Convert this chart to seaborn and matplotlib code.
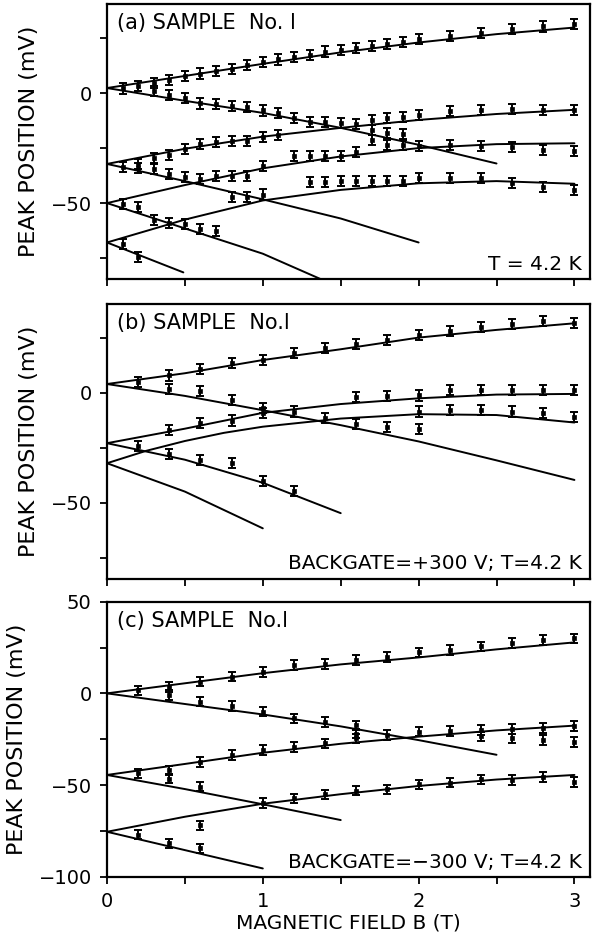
import numpy as np
import pandas as pd
import matplotlib
matplotlib.use("Agg")
import matplotlib.pyplot as plt
import seaborn as sns

sns.set_theme(style="ticks")
plt.rcParams['font.family'] = ['DejaVu Sans']
plt.rcParams.update({"text.color": "black", "axes.labelcolor": "black",
                     "xtick.color": "black", "ytick.color": "black"})

# ---------------- panel (a): SAMPLE No. 1, T = 4.2 K ----------------
# fitted level curves: (branch, field values, energies)
curves_a = {
    "a1": ([0, 0.5, 1.0, 1.5, 2.0, 2.5, 3.0], [2.3, 7.8, 13.3, 18.5, 23.0, 26.8, 29.8]),
    "a2": ([0, 0.5, 1.0, 1.5, 2.0, 2.5], [2.3, -3.5, -9.0, -15.8, -23.5, -32.0]),
    "a3": ([0, 0.5, 1.0, 1.5, 2.0, 2.5, 3.0], [-32.2, -25.3, -19.8, -15.8, -12.2, -9.5, -7.6]),
    "a4": ([0, 0.5, 1.0, 1.5, 2.0], [-32.2, -40.0, -48.3, -57.0, -67.9]),
    "a5": ([0, 0.5, 1.0, 1.5, 2.0, 2.5, 3.0], [-50.0, -41.8, -34.2, -28.8, -25.0, -23.2, -22.8]),
    "a6": ([0, 0.5, 1.0, 1.37], [-50.0, -61.5, -73.0, -84.5]),
    "a7": ([0, 0.5, 1.0, 1.5, 2.0, 2.5, 3.0], [-67.9, -57.5, -48.8, -44.0, -41.0, -40.0, -41.2]),
    "a8": ([0, 0.49], [-67.9, -81.5]),
}
field_a = [0.1, 0.2, 0.3, 0.4, 0.5, 0.6, 0.7, 0.8, 0.9, 1.0, 1.1, 1.2, 1.3, 1.4, 1.5, 1.6, 1.7,
           1.8, 1.9, 2.0, 2.2, 2.4, 2.6, 2.8, 3.0,
           0.3, 0.4, 0.5, 0.6, 0.7, 0.8, 0.9, 1.0, 1.1, 1.2, 1.3, 1.4, 1.5, 1.6, 1.7, 1.8, 1.9,
           0.1, 0.2, 0.3, 0.4, 0.5, 0.6, 0.7, 0.8, 0.9, 1.0, 1.1, 1.7, 1.8, 1.9, 2.0, 2.2, 2.4,
           2.6, 2.8, 3.0,
           0.2, 0.3, 0.4, 0.5, 0.6, 0.8, 0.9, 1.0,
           0.7, 0.8, 0.9, 1.0, 1.2, 1.3, 1.4, 1.5, 1.6, 1.7, 1.8, 1.9, 2.0, 2.2, 2.4, 2.6, 2.8, 3.0,
           0.1, 0.2, 0.3, 0.4, 0.5, 0.6, 0.7,
           0.1, 1.3, 1.4, 1.5, 1.6, 1.7, 1.8, 1.9, 2.0, 2.2, 2.4, 2.6, 2.8, 3.0,
           0.2]
peak_a = [2.1, 3.3, 4.5, 6.0, 7.6, 8.9, 10.1, 10.9, 12.7, 14.3, 15.3, 16.4, 17.4, 18.9, 19.7, 20.5, 21.5,
          22.4, 23.4, 24.5, 26.0, 27.5, 29.0, 30.3, 31.4,
          0.8, -0.9, -2.1, -4.7, -5.0, -5.7, -6.5, -7.9, -9.1, -11.3, -13.1, -13.3, -13.6, -14.0, -16.9, -18.0, -18.5,
          -33.4, -32.2, -29.6, -28.1, -25.4, -23.1, -22.4, -21.6, -21.6, -19.9, -18.9, -12.1, -11.3, -10.9, -9.8, -8.3, -7.6,
          -7.3, -7.6, -7.6,
          -34.0, -34.4, -36.7, -38.2, -39.0, -47.3, -47.3, -46.1,
          -37.5, -37.5, -37.5, -33.2, -28.7, -28.4, -28.4, -28.7, -26.7, -21.5, -23.4, -23.4, -23.9, -23.4, -24.2, -24.5, -25.8, -26.5,
          -50.3, -51.8, -57.6, -59.1, -59.4, -61.6, -62.7,
          -68.4, -40.5, -40.3, -40.0, -40.0, -40.0, -40.0, -40.0, -38.5, -38.5, -38.5, -40.8, -42.7, -43.9,
          -74.5]

# ---------------- panel (b): backgate +300 V ----------------
curves_b = {
    "b1": ([0, 0.5, 1.0, 1.5, 2.0, 2.5, 3.0], [3.9, 8.8, 14.8, 19.7, 25.0, 28.5, 31.5]),
    "b2": ([0, 0.5, 1.0, 1.5, 2.0, 2.5, 3.0], [3.9, -1.5, -8.0, -14.8, -22.2, -30.8, -39.7]),
    "b3": ([0, 0.5, 1.0, 1.5, 2.0, 2.5, 3.0], [-23.0, -16.4, -9.2, -5.2, -2.6, -0.9, -0.6]),
    "b4": ([0, 0.25, 0.5, 0.75, 1.0, 1.5, 2.0, 2.5, 3.0],
           [-32.1, -26.5, -22.0, -18.3, -15.5, -11.8, -9.8, -10.2, -13.6]),
    "b5": ([0, 0.5, 1.0, 1.5], [-23.0, -30.5, -41.0, -54.8]),
    "b6": ([0, 0.5, 1.0], [-32.1, -45.0, -61.7]),
}
field_b = [0.2, 0.4, 0.6, 0.8, 1.0, 1.2, 1.4, 1.6, 1.8, 2.0, 2.2, 2.4, 2.6, 2.8, 3.0,
           0.4, 0.6, 0.8, 1.0, 1.2, 1.4, 1.6, 1.8, 2.0,
           1.6, 1.8, 2.0, 2.2, 2.4, 2.6, 2.8, 3.0,
           2.0, 2.2, 2.4, 2.6, 2.8, 3.0,
           0.4, 0.6, 0.8, 1.0,
           0.2, 0.4, 0.6, 0.8, 1.0, 1.2]
peak_b = [4.8, 7.8, 10.6, 13.4, 14.8, 17.9, 20.1, 22.1, 24.1, 26.1, 28.1, 29.9, 31.2, 32.4, 31.5,
          1.5, 0.7, -3.5, -7.0, -8.6, -11.4, -14.2, -15.6, -16.5,
          -1.8, -1.5, -1.3, 1.2, 1.2, 1.3, 1.3, 1.0,
          -8.6, -7.9, -7.9, -8.6, -9.4, -10.9,
          -16.9, -13.9, -12.7, -9.2,
          -24.2, -27.9, -30.5, -32.0, -40.3, -44.8]

# ---------------- panel (c): backgate -300 V ----------------
curves_c = {
    "c1": ([0, 0.5, 1.0, 1.5, 2.0, 2.5, 3.0], [0.0, 5.5, 11.0, 15.8, 19.6, 24.0, 27.8]),
    "c2": ([0, 0.5, 1.0, 1.5, 2.0, 2.5], [0.0, -5.8, -11.5, -18.0, -25.5, -33.5]),
    "c3": ([0, 0.5, 1.0, 1.5, 2.0, 2.5, 3.0], [-44.5, -38.5, -32.4, -27.5, -23.6, -20.2, -17.6]),
    "c4": ([0, 0.5, 1.0, 1.5], [-44.5, -52.2, -60.5, -69.1]),
    "c5": ([0, 0.5, 1.0, 1.5, 2.0, 2.5, 3.0], [-75.5, -67.3, -60.2, -55.0, -50.5, -47.0, -44.5]),
    "c6": ([0, 0.5, 1.0], [-75.5, -85.5, -95.5]),
}
field_c = [0.2, 0.4, 0.6, 0.8, 1.0, 1.2, 1.4, 1.6, 1.8, 2.0, 2.2, 2.4, 2.6, 2.8, 3.0,
           0.4, 0.6, 0.8, 1.0, 1.2, 1.4, 1.6, 1.6, 1.8,
           0.2, 0.4, 0.4, 0.6, 0.8, 1.0, 1.2, 1.4, 1.6, 2.0, 2.2, 2.4, 2.4, 2.6, 2.6, 2.8, 2.8, 3.0, 3.0,
           0.6, 1.0,
           0.6, 1.2, 1.4, 1.6, 1.8, 2.0, 2.2, 2.4, 2.6, 2.8, 3.0,
           0.2, 0.4, 0.6]
peak_c = [1.6, 3.4, 6.4, 9.1, 11.6, 15.5, 16.0, 18.2, 19.8, 22.3, 23.6, 25.6, 27.4, 29.1, 30.0,
          -0.9, -4.5, -6.9, -10.0, -13.6, -15.5, -17.5, -22.0, -22.7,
          -43.6, -42.0, -46.5, -37.3, -33.6, -31.0, -29.3, -27.3, -24.5, -20.9, -20.6, -20.0, -23.5, -19.5, -24.5,
          -19.0, -25.5, -17.8, -26.4,
          -50.9, -59.8,
          -72.0, -57.3, -55.1, -53.1, -52.4, -49.6, -48.7, -46.9, -47.3, -45.5, -48.2,
          -77.0, -81.8, -84.5]

peak_err = [2.3, 2.3, 2.6]          # half-height of the error bars (mV)
y_limits = [(-84.5, 40.5), (-84.5, 40.5), (-100, 50)]
y_labelled = [[-50, 0], [-50, 0], [-100, -50, 0, 50]]
titles = ["(a) SAMPLE  No. l", "(b) SAMPLE  No.l", "(c) SAMPLE  No.l"]
conditions = ["T = 4.2 K", "BACKGATE=+300 V; T=4.2 K", "BACKGATE=\u2212300 V; T=4.2 K"]
x_label = "MAGNETIC FIELD B (T)"
y_label = "PEAK POSITION (mV)"

fig = plt.figure(figsize=(6.0, 9.39), dpi=100)
W, H = 600.0, 939.0
left, right = 107, 590
tops = [4, 303.5, 601.7]
height = 275

panels = [(curves_a, field_a, peak_a), (curves_b, field_b, peak_b), (curves_c, field_c, peak_c)]
for i, (curves, fx, py) in enumerate(panels):
    top = tops[i]
    ax = fig.add_axes([left / W, 1 - (top + height) / H, (right - left) / W, height / H])

    rows = []
    for name, (bx, ey) in curves.items():
        for b, e in zip(bx, ey):
            rows.append({"B": b, "E": e, "branch": name})
    lines = pd.DataFrame(rows)
    sns.lineplot(data=lines, x="B", y="E", units="branch", estimator=None, sort=False,
                 color="black", lw=1.4, ax=ax, legend=False)

    pts = pd.DataFrame({"B": fx, "E": py})
    ax.errorbar(pts["B"], pts["E"], yerr=peak_err[i], fmt="none", ecolor="black",
                elinewidth=1.4, capsize=2.6, capthick=1.4, zorder=3)
    sns.scatterplot(data=pts, x="B", y="E", marker="s", s=9, color="black",
                    edgecolor="black", linewidth=0.5, ax=ax, zorder=4, legend=False)

    ax.set_xlim(0, 3.1)
    ax.set_ylim(*y_limits[i])
    ax.set_xticks(np.arange(0, 3.01, 0.5))
    yt = np.arange(-100, 51, 25)
    yt = yt[(yt >= y_limits[i][0]) & (yt <= y_limits[i][1])]
    ax.set_yticks(yt)
    ax.set_yticklabels([("\u2212%d" % -v if v < 0 else "%d" % v) if v in y_labelled[i] else ""
                        for v in yt])
    if i == 2:
        ax.set_xticklabels([("%d" % v) if float(v).is_integer() else "" for v in np.arange(0, 3.01, 0.5)])
        ax.set_xlabel(x_label, fontsize=14.5, labelpad=2)
    else:
        ax.set_xticklabels([])
        ax.set_xlabel("")
    ax.set_ylabel(y_label, fontsize=16, labelpad=8)
    ax.tick_params(direction="out", length=5, width=1.3, labelsize=14, pad=6, colors="black")
    for s in ax.spines.values():
        s.set_linewidth(1.6)
        s.set_color("black")
        s.set_visible(True)

    ax.text(0.021, 0.93, titles[i], transform=ax.transAxes, fontsize=15,
            ha="left", va="center", color="black")
    ax.text(0.983, 0.053, conditions[i], transform=ax.transAxes, fontsize=14.5,
            ha="right", va="center", color="black")

fig.savefig("out.png", dpi=100)
